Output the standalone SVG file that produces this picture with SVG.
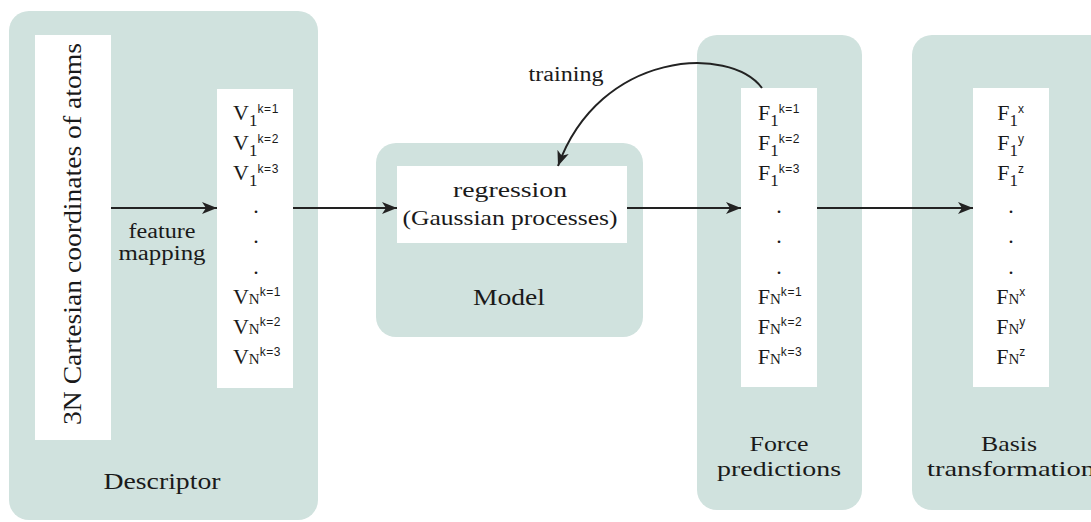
<svg xmlns="http://www.w3.org/2000/svg" width="1091" height="522" viewBox="0 0 1091 522">
  <style>
    .panel { fill: #d0e2de; }
    .card { fill: #ffffff; }
    text { font-family: "Liberation Serif", "Times New Roman", serif; fill: #1a1a1a; }
    .lbl { font-size: 23px; text-anchor: middle; }
    .small { font-size: 20px; text-anchor: middle; }
    .ent { font-size: 22px; text-anchor: middle; }
    .sub { font-size: 17px; }
    .sc { font-size: 15px; }
    .sup { font-family: "Liberation Sans", Arial, sans-serif; font-size: 12px; letter-spacing: 0.6px; }
    .link { stroke: #222; stroke-width: 2; fill: none; }
  </style>
  <defs>
    <marker id="head" viewBox="0 0 15 12" refX="15" refY="6" markerWidth="15" markerHeight="12" markerUnits="userSpaceOnUse" orient="auto">
      <path d="M0,0 L15,6 L0,12 L4,6 z" fill="#222"/>
    </marker>
  </defs>

  <!-- Descriptor panel -->
  <g id="descriptor">
    <rect class="panel" x="9" y="11" width="309" height="509" rx="20"/>
    <rect class="card" x="35" y="35" width="76" height="405"/>
    <text class="lbl" transform="translate(81,234) rotate(-90)" textLength="382" lengthAdjust="spacingAndGlyphs" style="font-size:26px">3N Cartesian coordinates of atoms</text>
    <rect class="card" x="217" y="89" width="76" height="299"/>
    <text class="ent" x="256" y="120">V<tspan class="sub" dy="6">1</tspan><tspan class="sup" dy="-13">k=1</tspan></text>
    <text class="ent" x="256" y="150">V<tspan class="sub" dy="6">1</tspan><tspan class="sup" dy="-13">k=2</tspan></text>
    <text class="ent" x="256" y="180">V<tspan class="sub" dy="6">1</tspan><tspan class="sup" dy="-13">k=3</tspan></text>
    <text class="ent" x="256" y="213">.</text>
    <text class="ent" x="256" y="243">.</text>
    <text class="ent" x="256" y="274">.</text>
    <text class="ent" x="257" y="304">V<tspan class="sc">N</tspan><tspan class="sup" dy="-8">k=1</tspan></text>
    <text class="ent" x="257" y="334">V<tspan class="sc">N</tspan><tspan class="sup" dy="-8">k=2</tspan></text>
    <text class="ent" x="257" y="364">V<tspan class="sc">N</tspan><tspan class="sup" dy="-8">k=3</tspan></text>
    <text class="small" x="162" y="238" textLength="67" lengthAdjust="spacingAndGlyphs">feature</text>
    <text class="small" x="162" y="260" textLength="87" lengthAdjust="spacingAndGlyphs">mapping</text>
    <text class="lbl" x="162" y="489" textLength="117" lengthAdjust="spacingAndGlyphs">Descriptor</text>
  </g>

  <!-- Model panel -->
  <g id="model">
    <rect class="panel" x="376" y="143" width="267" height="194" rx="20"/>
    <rect class="card" x="397" y="166" width="230" height="77"/>
    <text class="lbl" x="510" y="197" textLength="114" lengthAdjust="spacingAndGlyphs" style="font-size:22px">regression</text>
    <text class="lbl" x="510" y="225" textLength="215" lengthAdjust="spacingAndGlyphs" style="font-size:22px">(Gaussian processes)</text>
    <text class="lbl" x="509" y="305" textLength="72" lengthAdjust="spacingAndGlyphs">Model</text>
  </g>

  <!-- Force predictions panel -->
  <g id="force">
    <rect class="panel" x="697" y="35" width="165" height="475" rx="20"/>
    <rect class="card" x="741" y="88" width="76" height="299"/>
    <text class="ent" x="779" y="120">F<tspan class="sub" dy="6">1</tspan><tspan class="sup" dy="-13">k=1</tspan></text>
    <text class="ent" x="779" y="150">F<tspan class="sub" dy="6">1</tspan><tspan class="sup" dy="-13">k=2</tspan></text>
    <text class="ent" x="779" y="180">F<tspan class="sub" dy="6">1</tspan><tspan class="sup" dy="-13">k=3</tspan></text>
    <text class="ent" x="779" y="213">.</text>
    <text class="ent" x="779" y="243">.</text>
    <text class="ent" x="779" y="274">.</text>
    <text class="ent" x="780" y="304">F<tspan class="sc">N</tspan><tspan class="sup" dy="-8">k=1</tspan></text>
    <text class="ent" x="780" y="334">F<tspan class="sc">N</tspan><tspan class="sup" dy="-8">k=2</tspan></text>
    <text class="ent" x="780" y="364">F<tspan class="sc">N</tspan><tspan class="sup" dy="-8">k=3</tspan></text>
    <text class="lbl" x="779" y="451" textLength="59" lengthAdjust="spacingAndGlyphs" style="font-size:22px">Force</text>
    <text class="lbl" x="779" y="476" textLength="124" lengthAdjust="spacingAndGlyphs" style="font-size:22px">predictions</text>
  </g>

  <!-- Basis transformation panel -->
  <g id="basis">
    <rect class="panel" x="912" y="35" width="200" height="475" rx="20"/>
    <rect class="card" x="973" y="88" width="76" height="299"/>
    <text class="ent" x="1011" y="120">F<tspan class="sub" dy="6">1</tspan><tspan class="sup" dy="-13">x</tspan></text>
    <text class="ent" x="1011" y="150">F<tspan class="sub" dy="6">1</tspan><tspan class="sup" dy="-13">y</tspan></text>
    <text class="ent" x="1011" y="180">F<tspan class="sub" dy="6">1</tspan><tspan class="sup" dy="-13">z</tspan></text>
    <text class="ent" x="1011" y="213">.</text>
    <text class="ent" x="1011" y="243">.</text>
    <text class="ent" x="1011" y="274">.</text>
    <text class="ent" x="1011" y="304">F<tspan class="sc">N</tspan><tspan class="sup" dy="-8">x</tspan></text>
    <text class="ent" x="1011" y="334">F<tspan class="sc">N</tspan><tspan class="sup" dy="-8">y</tspan></text>
    <text class="ent" x="1011" y="364">F<tspan class="sc">N</tspan><tspan class="sup" dy="-8">z</tspan></text>
    <text class="lbl" x="1009" y="451" textLength="56" lengthAdjust="spacingAndGlyphs" style="font-size:22px">Basis</text>
    <text class="lbl" x="1011" y="476" textLength="168" lengthAdjust="spacingAndGlyphs" style="font-size:22px">transformation</text>
  </g>

  <!-- Connectors -->
  <g id="connectors">
    <line class="link" x1="111" y1="208" x2="217" y2="208" marker-end="url(#head)"/>
    <line class="link" x1="293" y1="208" x2="397" y2="208" marker-end="url(#head)"/>
    <line class="link" x1="627" y1="208" x2="741" y2="208" marker-end="url(#head)"/>
    <line class="link" x1="817" y1="208" x2="973" y2="208" marker-end="url(#head)"/>
    <path class="link" d="M762,88 C730,45 600,50 558,166" marker-end="url(#head)"/>
    <text class="small" x="566" y="81" textLength="75" lengthAdjust="spacingAndGlyphs">training</text>
  </g>
</svg>
